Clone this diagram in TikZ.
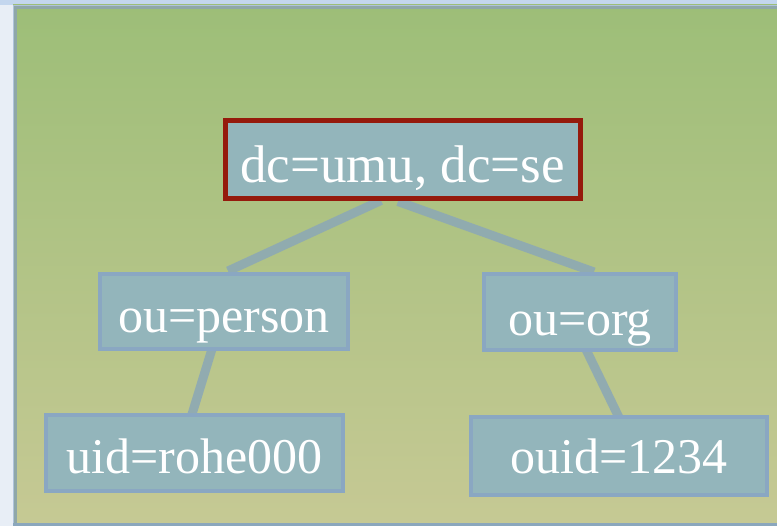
\documentclass[tikz,border=0pt]{standalone}
\usepackage{fontspec}
\setmainfont{Liberation Serif}
\usetikzlibrary{calc}
\definecolor{outerbg}{HTML}{E8EEF6}
\definecolor{topstrip}{HTML}{C3D6EE}
\definecolor{paneltop}{HTML}{9DBE78}
\definecolor{panelbot}{HTML}{C6C994}
\definecolor{panelline}{HTML}{8FA7A9}
\definecolor{panelouter}{HTML}{AFC3DA}
\definecolor{boxfill}{HTML}{93B5BB}
\definecolor{boxline}{HTML}{8AA7C2}
\definecolor{rootline}{HTML}{951A0C}
\definecolor{edgecol}{HTML}{8DA9B4}
\pgfdeclarelayer{bg}
\pgfdeclarelayer{edges}
\pgfsetlayers{bg,edges,main}
\begin{document}
\begin{tikzpicture}[x=1bp,y=-1bp,
  treebox/.style={draw=boxline, line width=4bp, fill=boxfill, inner sep=0pt, outer sep=0pt,
    anchor=base, text=white, font=\fontsize{50bp}{54bp}\selectfont},
  rootbox/.style={treebox, draw=rootline, line width=5bp, font=\fontsize{53bp}{57bp}\selectfont},
  edge/.style={draw=edgecol, line width=9bp, opacity=0.9}]
\useasboundingbox (0,0) rectangle (777,526);
\begin{pgfonlayer}{bg}
  \fill[outerbg] (0,0) rectangle (777,526);
  \fill[topstrip] (0,0) rectangle (777,5);
  \shade[top color=paneltop, bottom color=panelbot] (13,5) rectangle (777,526);
  \draw[panelouter, line width=1.5bp] (13.5,526) -- (13.5,5.5) -- (777,5.5);
  \draw[panelline, line width=3.5bp] (15.5,526) -- (15.5,7.5) -- (777,7.5);
  \draw[boxline!80!panelline, line width=3bp] (13,524.5) -- (777,524.5);
\end{pgfonlayer}

\node[rootbox, minimum width=355bp, text height=62.5bp, text depth=15.5bp] (root) at (402.5,183) {dc=umu, dc=se};
\node[treebox, minimum width=248bp, text height=58bp, text depth=17bp] (person) at (224,332) {ou=person};
\node[treebox, minimum width=192bp, text height=61bp, text depth=14.5bp] (org) at (580,335) {ou=org};
\node[treebox, minimum width=296.5bp, text height=58bp, text depth=18bp] (uid) at (194.75,473) {uid=rohe000};
\node[treebox, minimum width=296.5bp, text height=56bp, text depth=22bp] (ouid) at (618.75,473) {ouid=1234};

\begin{pgfonlayer}{edges}
  \draw[edge] ([xshift=-21.5bp,yshift=-2bp]root.south) -- ([xshift=4bp,yshift=3bp]person.north);
  \draw[edge] ([xshift=-4.5bp,yshift=-3bp]root.south) -- ([xshift=14bp,yshift=2bp]org.north);
  \draw[edge] ([xshift=-12bp]person.south) -- ([xshift=-3bp]uid.north);
  \draw[edge] ([xshift=6bp]org.south) -- ([xshift=0bp]ouid.north);
\end{pgfonlayer}
\end{tikzpicture}
\end{document}
